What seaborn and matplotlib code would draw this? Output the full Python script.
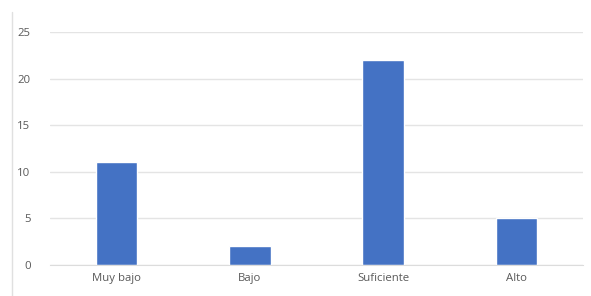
import matplotlib
matplotlib.use('Agg')
import matplotlib.pyplot as plt
import seaborn as sns
from matplotlib.lines import Line2D

# data
categories = ['Muy bajo', 'Bajo', 'Suficiente', 'Alto']
values = [11, 2, 22, 5]

sns.set_style('white')
plt.rcParams['font.family'] = ['Open Sans', 'DejaVu Sans']

fig = plt.figure(figsize=(5.91, 2.96), dpi=100)
ax = fig.add_axes([50 / 591, 31 / 296, 533 / 591, 233 / 296])

sns.barplot(x=categories, y=values, color='#4472C4', saturation=1, width=0.31, ax=ax)

ax.set_ylim(0, 25)
ax.set_yticks([0, 5, 10, 15, 20, 25])
ax.yaxis.grid(True, color='#e4e4e4', linewidth=1)
ax.set_axisbelow(True)
for s in ax.spines.values():
    s.set_visible(False)
ax.spines['bottom'].set_visible(True)
ax.spines['bottom'].set_color('#dcdcdc')
ax.tick_params(axis='both', length=0, labelsize=8.2, labelcolor='#595959')
ax.tick_params(axis='y', pad=14)
ax.tick_params(axis='x', pad=6)
ax.set_xlabel('')
ax.set_ylabel('')

# left border of the chart frame
fig.add_artist(Line2D([12 / 591, 12 / 591], [0, 284 / 296], color='#e0e0e0', linewidth=1))

fig.savefig('out.png', dpi=100)
